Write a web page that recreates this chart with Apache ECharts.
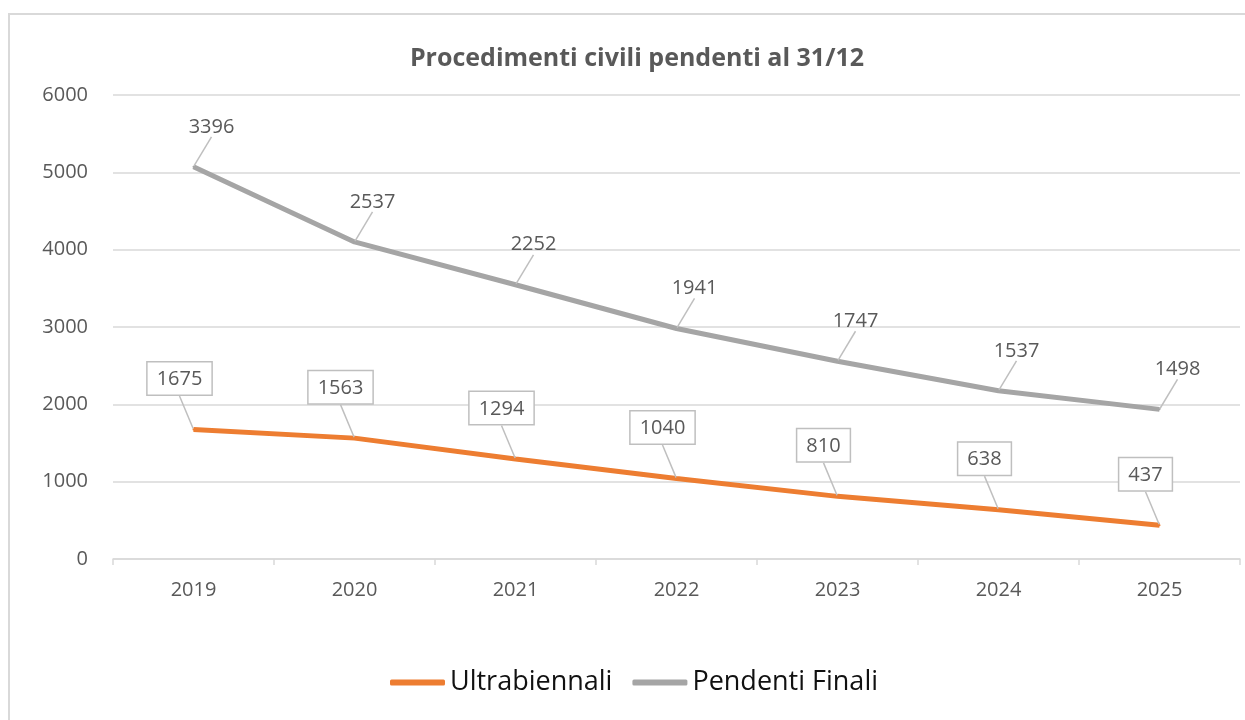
<!DOCTYPE html>
<html>
<head>
<meta charset="utf-8">
<script src="https://cdn.jsdelivr.net/npm/echarts@6/dist/echarts.min.js"></script>
<style>
  html, body { margin: 0; padding: 0; background: #fff; }
  #chart { width: 1245px; height: 720px; }
</style>
</head>
<body>
<div id="chart"></div>
<script>
const years = ['2019', '2020', '2021', '2022', '2023', '2024', '2025'];
const ultrabiennali = [1675, 1563, 1294, 1040, 810, 638, 437];
const pendentiFinali = [3396, 2537, 2252, 1941, 1747, 1537, 1498];
const yTicks = [0, 1000, 2000, 3000, 4000, 5000, 6000];

const font = '"Open Sans", "Noto Sans", sans-serif';
const textGrey = '#595959';

const chart = echarts.init(document.getElementById('chart'));

chart.setOption({
  backgroundColor: '#fff',
  animation: false,
  title: {
    text: 'Procedimenti civili pendenti al 31/12',
    left: 632,
    textAlign: 'center',
    top: 41,
    textStyle: { fontFamily: font, fontSize: 25, fontWeight: 'bold', color: textGrey }
  },
  legend: {
    data: [
      { name: 'Ultrabiennali', icon: 'roundRect' },
      { name: 'Pendenti Finali', icon: 'roundRect' }
    ],
    bottom: 19,
    left: 385,
    itemWidth: 55,
    itemHeight: 6,
    itemGap: 20,
    textStyle: { fontFamily: font, fontSize: 27, color: '#111' }
  },
  graphic: [{
    type: 'rect',
    shape: { x: 9, y: 14, width: 1400, height: 900 },
    style: { fill: 'none', stroke: '#d9d9d9', lineWidth: 2 },
    silent: true
  }],
  grid: { left: 113, right: 5, top: 95, bottom: 161 },
  xAxis: {
    type: 'category',
    data: years,
    boundaryGap: true,
    axisLine: { lineStyle: { color: '#d9d9d9', width: 1.5 } },
    axisTick: { show: true, length: 6, lineStyle: { color: '#d9d9d9', width: 1.5 } },
    axisLabel: { fontFamily: font, fontSize: 20, color: textGrey, margin: 21 }
  },
  yAxis: {
    type: 'value',
    min: yTicks[0],
    max: yTicks[yTicks.length - 1],
    interval: 1000,
    axisLine: { show: false },
    axisTick: { show: false },
    axisLabel: { fontFamily: font, fontSize: 20, color: textGrey, margin: 25, formatter: v => String(v) },
    splitLine: { lineStyle: { color: '#d9d9d9', width: 1.5 } }
  },
  series: [
    {
      name: 'Ultrabiennali',
      type: 'line',
      stack: 'totale',
      data: ultrabiennali,
      symbol: 'circle',
      symbolSize: 2,
      showAllSymbol: true,
      color: '#ED7D31',
      itemStyle: { color: '#ED7D31' },
      lineStyle: { color: '#ED7D31', width: 5 },
      label: {
        show: true,
        position: 'top',
        fontFamily: font,
        fontSize: 20,
        color: textGrey,
        backgroundColor: '#fff',
        borderColor: '#bfbfbf',
        borderWidth: 1.5,
        padding: [7, 9, 5, 9]
      },
      labelLine: { show: true, lineStyle: { color: '#bfbfbf', width: 1.5 } },
      labelLayout: { dx: -14, dy: -29 },
      z: 3
    },
    {
      name: 'Pendenti Finali',
      type: 'line',
      stack: 'totale',
      data: pendentiFinali,
      symbol: 'circle',
      symbolSize: 2,
      showAllSymbol: true,
      color: '#A5A5A5',
      itemStyle: { color: '#A5A5A5' },
      lineStyle: { color: '#A5A5A5', width: 5 },
      label: {
        show: true,
        position: 'top',
        fontFamily: font,
        fontSize: 20,
        color: textGrey
      },
      labelLine: { show: true, lineStyle: { color: '#bfbfbf', width: 1.5 } },
      labelLayout: { dx: 18, dy: -24 },
      z: 2
    }
  ]
});
</script>
</body>
</html>
